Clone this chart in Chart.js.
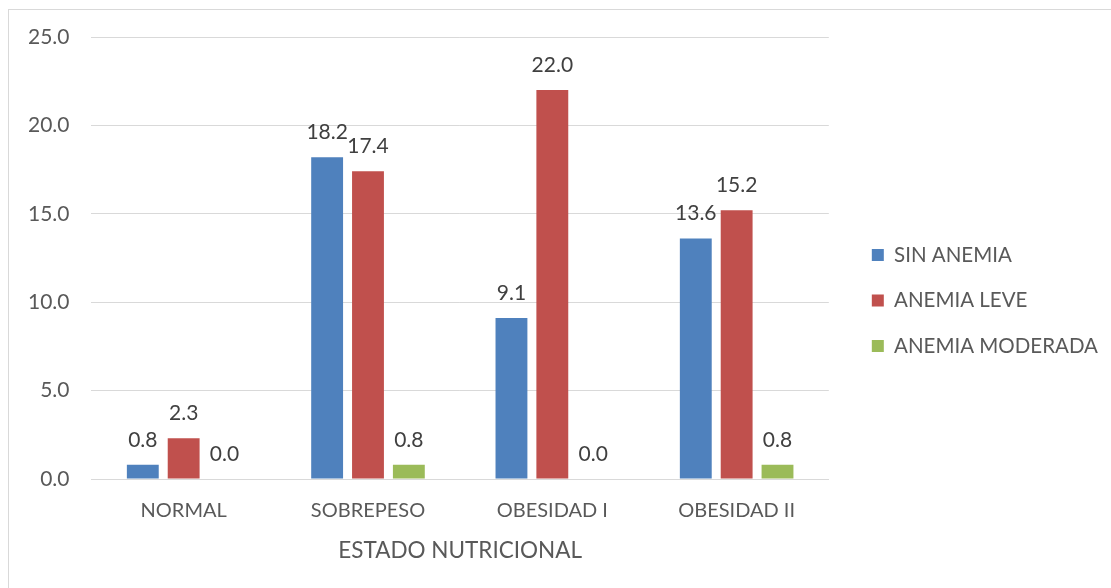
<!DOCTYPE html>
<html>
<head>
<meta charset="utf-8">
<script src="https://cdn.jsdelivr.net/npm/chart.js@4"></script>
<style>
  html, body { margin: 0; padding: 0; background: #fff; }
  #frame { position: absolute; left: 8px; top: 9px; width: 1300px; height: 800px; border: 1px solid #D9D9D9; box-sizing: border-box; }
  #wrap { position: absolute; left: 0; top: 0; width: 1111px; height: 588px; }
</style>
</head>
<body>
<div id="frame"></div>
<div id="wrap"><canvas id="c" width="1111" height="588"></canvas></div>
<script>
const categories = ['NORMAL', 'SOBREPESO', 'OBESIDAD I', 'OBESIDAD II'];
const sinAnemia = [0.8, 18.2, 9.1, 13.6];
const anemiaLeve = [2.3, 17.4, 22.0, 15.2];
const anemiaModerada = [0.0, 0.8, 0.0, 0.8];
const seriesNames = ['SIN ANEMIA', 'ANEMIA LEVE', 'ANEMIA MODERADA'];
const seriesColors = ['#4F81BD', '#C0504D', '#9BBB59'];
const yTicks = [0, 5, 10, 15, 20, 25];

const FONT = 'Lato, "Open Sans", sans-serif';
const TEXT = '#595959';
const LEGEND_GAP = 18; // extra space between plot and legend

// value labels above each bar
const valueLabels = {
  id: 'valueLabels',
  afterDatasetsDraw(chart) {
    const ctx = chart.ctx;
    ctx.save();
    ctx.font = '21px ' + FONT;
    ctx.fillStyle = '#404040';
    ctx.textAlign = 'center';
    ctx.textBaseline = 'middle';
    chart.data.datasets.forEach((ds, i) => {
      const meta = chart.getDatasetMeta(i);
      meta.data.forEach((el, j) => {
        ctx.fillText(ds.data[j].toFixed(1), el.x, el.y - 25);
      });
    });
    ctx.restore();
  }
};

// widen the legend box and shift its items right, leaving a gap after the plot
const legendGap = {
  id: 'legendGap',
  afterInit(chart) {
    const legend = chart.legend;
    if (!legend) return;
    const fit = legend.fit;
    legend.fit = function () { fit.call(this); this.width += LEGEND_GAP; };
    const draw = legend.draw;
    legend.draw = function () {
      const ctx = this.ctx;
      ctx.save();
      ctx.translate(LEGEND_GAP, 0);
      draw.call(this);
      ctx.restore();
    };
  }
};

const values = [sinAnemia, anemiaLeve, anemiaModerada];

new Chart(document.getElementById('c'), {
  type: 'bar',
  data: {
    labels: categories,
    datasets: values.map((v, i) => ({
      label: seriesNames[i],
      data: v,
      backgroundColor: seriesColors[i],
      borderWidth: 0,
      categoryPercentage: 0.665,
      barPercentage: 0.78
    }))
  },
  options: {
    responsive: false,
    animation: false,
    layout: { padding: { left: 6, right: 3, top: 37, bottom: 24 } },
    plugins: {
      legend: {
        position: 'right',
        labels: {
          boxWidth: 12,
          boxHeight: 12,
          padding: 25,
          color: TEXT,
          font: { family: FONT, size: 20.5 }
        }
      },
      tooltip: { enabled: false }
    },
    scales: {
      x: {
        grid: { display: false, drawTicks: false },
        border: { color: '#D9D9D9', width: 1 },
        ticks: { color: TEXT, font: { family: FONT, size: 20 }, padding: 20 },
        title: { display: true, text: 'ESTADO NUTRICIONAL', color: TEXT, font: { family: FONT, size: 22.5 }, padding: { top: -6, bottom: 0 } }
      },
      y: {
        min: yTicks[0],
        max: yTicks[yTicks.length - 1],
        afterBuildTicks: axis => { axis.ticks = yTicks.map(v => ({ value: v })); },
        grid: { color: '#D9D9D9', drawTicks: false },
        border: { display: false },
        ticks: {
          color: TEXT,
          font: { family: FONT, size: 21 },
          padding: 22,
          callback: v => v.toFixed(1)
        }
      }
    }
  },
  plugins: [valueLabels, legendGap]
});
</script>
</body>
</html>
